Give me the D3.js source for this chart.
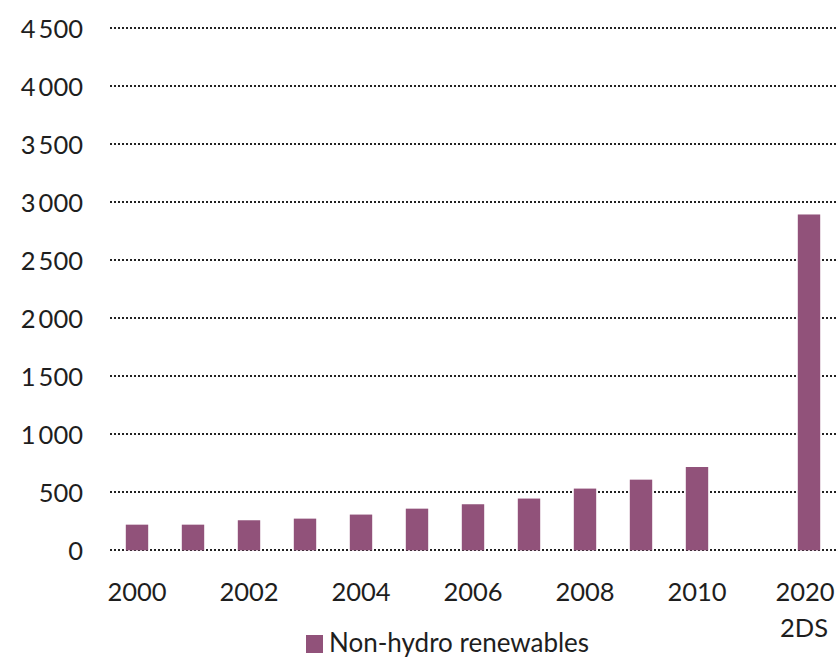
<!DOCTYPE html>
<html>
<head>
<meta charset="utf-8">
<script src="https://cdn.jsdelivr.net/npm/d3@7"></script>
<style>
  html, body { margin: 0; padding: 0; background: #ffffff; }
  svg { display: block; }
  text { font-family: Lato, "Open Sans", sans-serif; fill: #1e1e1e; }
</style>
</head>
<body>
<svg id="chart" width="837" height="658"></svg>
<script>
// Non-hydro renewable generation by year, with the 2020 2DS target
const categories = ["2000", "2001", "2002", "2003", "2004", "2005", "2006",
                    "2007", "2008", "2009", "2010", "gap", "2020"];
const values = [221, 221, 259, 273, 308, 359, 397, 446, 532, 609, 718, null, 2895];
const xTickLabels = { "2000": ["2000"], "2002": ["2002"], "2004": ["2004"], "2006": ["2006"],
                      "2008": ["2008"], "2010": ["2010"], "2020": ["2020", "2DS"] };
const yTicks = [0, 500, 1000, 1500, 2000, 2500, 3000, 3500, 4000, 4500];
const seriesName = "Non-hydro renewables";
const barColor = "#91527a";

const svg = d3.select("#chart");

const x = d3.scaleBand().domain(categories).range([109, 837]).paddingInner(0.6).paddingOuter(0.3);
const y = d3.scaleLinear().domain([0, 4500]).range([550.3, 28.3]);

// thousands separated by a narrow space
const fmt = v => v >= 1000 ? Math.floor(v / 1000) + "\u2009" + d3.format("03d")(v % 1000) : String(v);

// dotted horizontal gridlines
svg.append("g")
  .selectAll("line")
  .data(yTicks)
  .join("line")
  .attr("x1", 110).attr("x2", 836)
  .attr("y1", d => Math.round(y(d))).attr("y2", d => Math.round(y(d)))
  .attr("stroke", "#222222")
  .attr("stroke-width", 2)
  .attr("stroke-dasharray", "2,2");

// y-axis labels
const yAxis = d3.axisLeft(y).tickValues(yTicks).tickFormat(fmt).tickSize(0).tickPadding(0);
const gy = svg.append("g").attr("transform", "translate(83,0)").call(yAxis);
gy.select(".domain").remove();
gy.selectAll("text")
  .attr("font-size", 25.5)
  .attr("dy", "0.35em")
  .style("font-family", "Lato, 'Open Sans', sans-serif")
  .attr("fill", "#1e1e1e");

// bars
svg.append("g")
  .selectAll("rect")
  .data(categories.map((c, i) => ({ c, v: values[i] })).filter(d => d.v != null))
  .join("rect")
  .attr("x", d => x(d.c))
  .attr("width", x.bandwidth())
  .attr("y", d => y(d.v))
  .attr("height", d => y(0) - y(d.v))
  .attr("fill", barColor);

// x-axis labels (every other year plus the 2020 scenario, kept inside the right edge)
const xLab = svg.append("g");
Object.entries(xTickLabels).forEach(([cat, lines]) => {
  const cx = Math.min(x(cat) + x.bandwidth() / 2, 805);
  const t = xLab.append("text")
    .attr("x", cx)
    .attr("y", 601)
    .attr("text-anchor", "middle")
    .attr("font-size", 25.5);
  lines.forEach((ln, i) => {
    t.append("tspan")
      .attr("x", cx - (i === 0 ? 0 : 1))
      .attr("dy", i === 0 ? 0 : 36)
      .text(ln);
  });
});

// legend
const lg = svg.append("g").attr("transform", "translate(306,635)");
lg.append("rect").attr("width", 17).attr("height", 18).attr("fill", barColor);
lg.append("text").attr("x", 23).attr("y", 17).attr("font-size", 26).text(seriesName);
</script>
</body>
</html>
